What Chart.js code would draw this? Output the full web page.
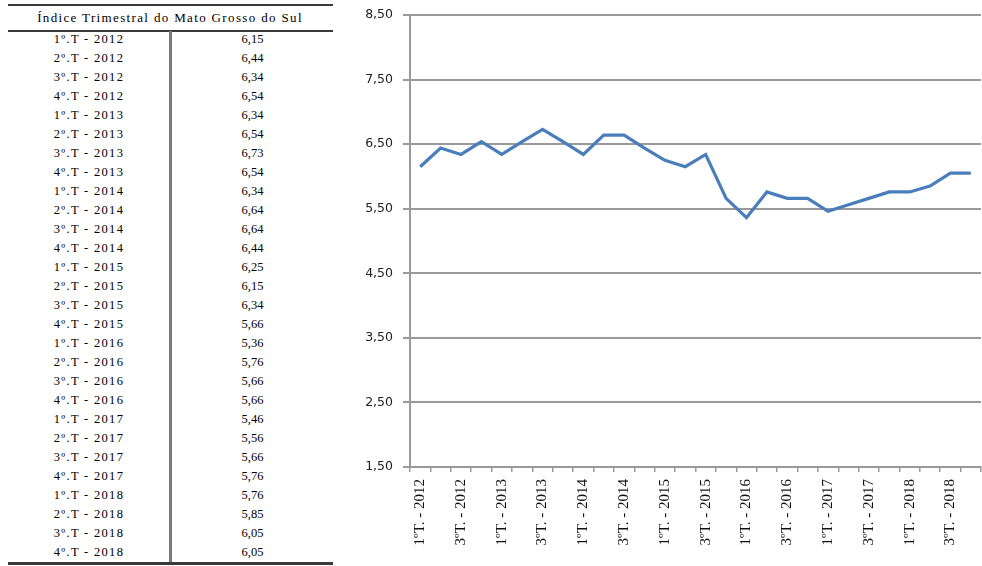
<!DOCTYPE html>
<html>
<head>
<meta charset="utf-8">
<script src="https://cdn.jsdelivr.net/npm/chart.js@4"></script>
<style>
  html, body { margin: 0; padding: 0; background: #fff; }
  #page { position: relative; width: 982px; height: 566px; overflow: hidden; }
  #tbl { position: absolute; left: 0; top: 0; width: 340px; height: 566px;
         font-family: "Liberation Serif", "Times New Roman", serif; color: #000; }
  .hline { position: absolute; left: 8px; width: 325px; background: #3a3a3a; }
  .vline { position: absolute; left: 169px; width: 3px; background: #7a7a7a; }
  .hdr { position: absolute; left: 0; width: 340px; top: 9px; text-align: center;
         font-size: 13px; letter-spacing: 1.35px; line-height: 18px; }
  .cell { position: absolute; height: 19px; line-height: 19px; text-align: center; font-size: 12.5px; }
  .lab { left: 8px; width: 162px; letter-spacing: 1.3px; }
  .val { left: 172px; width: 161px; }
  #chartBox { position: absolute; left: 340px; top: 0; width: 642px; height: 566px; }
</style>
</head>
<body>
<div id="page">
  <div id="tbl">
    <div class="hline" style="top:4px;height:2px;"></div>
    <div class="hdr">Índice Trimestral do Mato Grosso do Sul</div>
    <div class="hline" style="top:30px;height:2px;"></div>
    <div class="vline" style="top:31px;height:532px;"></div>
    <div class="hline" style="top:562px;height:3px;"></div>
  </div>
  <div id="chartBox"><canvas id="chart" width="642" height="566"></canvas></div>
</div>
<script>
// Quarter names as listed in the table
const tableQuarters = [
  "1º.T - 2012", "2º.T - 2012", "3º.T - 2012", "4º.T - 2012",
  "1º.T - 2013", "2º.T - 2013", "3º.T - 2013", "4º.T - 2013",
  "1º.T - 2014", "2º.T - 2014", "3º.T - 2014", "4º.T - 2014",
  "1º.T - 2015", "2º.T - 2015", "3º.T - 2015", "4º.T - 2015",
  "1º.T - 2016", "2º.T - 2016", "3º.T - 2016", "4º.T - 2016",
  "1º.T - 2017", "2º.T - 2017", "3º.T - 2017", "4º.T - 2017",
  "1º.T - 2018", "2º.T - 2018", "3º.T - 2018", "4º.T - 2018"
];

// Category labels on the chart's horizontal axis
const axisQuarters = [
  "1ºT. - 2012", "2ºT. - 2012", "3ºT. - 2012", "4ºT. - 2012",
  "1ºT. - 2013", "2ºT. - 2013", "3ºT. - 2013", "4ºT. - 2013",
  "1ºT. - 2014", "2ºT. - 2014", "3ºT. - 2014", "4ºT. - 2014",
  "1ºT. - 2015", "2ºT. - 2015", "3ºT. - 2015", "4ºT. - 2015",
  "1ºT. - 2016", "2ºT. - 2016", "3ºT. - 2016", "4ºT. - 2016",
  "1ºT. - 2017", "2ºT. - 2017", "3ºT. - 2017", "4ºT. - 2017",
  "1ºT. - 2018", "2ºT. - 2018", "3ºT. - 2018", "4ºT. - 2018"
];

// Quarterly index for Mato Grosso do Sul
const indexValues = [
  6.15, 6.44, 6.34, 6.54,
  6.34, 6.54, 6.73, 6.54,
  6.34, 6.64, 6.64, 6.44,
  6.25, 6.15, 6.34, 5.66,
  5.36, 5.76, 5.66, 5.66,
  5.46, 5.56, 5.66, 5.76,
  5.76, 5.85, 6.05, 6.05
];

// Value axis range
const yMin = 1.5, yMax = 8.5, yStep = 1;

const fmt = v => v.toFixed(2).replace('.', ',');

// Table rows
const tbl = document.getElementById('tbl');
const rowTop = 30, rowH = 19;
tableQuarters.forEach((q, i) => {
  const top = rowTop + i * rowH;
  const a = document.createElement('div');
  a.className = 'cell lab';
  a.style.top = top + 'px';
  a.textContent = q;
  const b = document.createElement('div');
  b.className = 'cell val';
  b.style.top = top + 'px';
  b.textContent = fmt(indexValues[i]);
  tbl.appendChild(a);
  tbl.appendChild(b);
});

const gridGray = '#9a9a9a';

new Chart(document.getElementById('chart'), {
  type: 'line',
  data: {
    labels: axisQuarters,
    datasets: [{
      data: indexValues,
      borderColor: '#4a7ebb',
      borderWidth: 3.2,
      pointRadius: 0,
      tension: 0,
      fill: false
    }]
  },
  options: {
    responsive: false,
    animation: false,
    events: [],
    layout: { padding: { top: 15, right: 1, left: 0, bottom: 0 } },
    plugins: { legend: { display: false }, tooltip: { enabled: false } },
    scales: {
      x: {
        type: 'category',
        offset: true,
        grid: {
          offset: true,
          drawOnChartArea: false,
          drawTicks: true,
          tickLength: 5,
          color: gridGray,
          lineWidth: 1.5
        },
        border: { display: true, color: gridGray, width: 2 },
        ticks: {
          autoSkip: false,
          minRotation: 90,
          maxRotation: 90,
          padding: 7,
          color: '#111',
          font: { family: 'Liberation Serif', size: 15 },
          callback: function (val, idx) {
            return idx % 2 === 0 ? this.getLabelForValue(val) : '';
          }
        },
        afterFit: s => { s.height = 99; s.paddingLeft = 0; s.paddingRight = 0; }
      },
      y: {
        min: yMin,
        max: yMax,
        grid: {
          color: gridGray,
          lineWidth: 2,
          drawTicks: true,
          tickLength: 7
        },
        border: { display: true, color: gridGray, width: 2 },
        ticks: {
          stepSize: yStep,
          padding: 10,
          color: '#222',
          font: { family: 'DejaVu Sans', size: 12.5 },
          callback: v => fmt(v)
        },
        afterFit: s => { s.width = 70; s.paddingTop = 0; s.paddingBottom = 0; }
      }
    }
  }
});
</script>
</body>
</html>
